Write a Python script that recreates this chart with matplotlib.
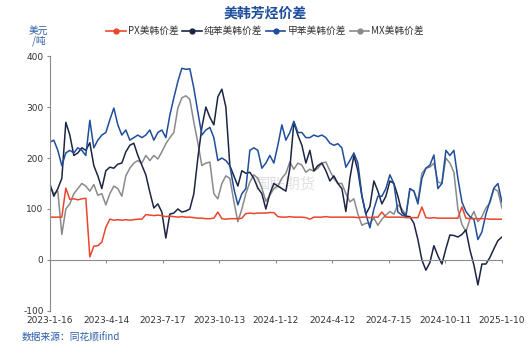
import numpy as np
import matplotlib
matplotlib.use('Agg')
import matplotlib.pyplot as plt
from matplotlib.lines import Line2D

plt.rcParams['font.family'] = ['Noto Sans CJK SC', 'DejaVu Sans']
plt.rcParams['axes.unicode_minus'] = False

# tick labels on the x axis (category axis of trading days)
date_labels = ['2023-1-16', '2023-4-14', '2023-7-17', '2023-10-13', '2024-1-12',
               '2024-4-12', '2024-7-15', '2024-10-11', '2025-1-10']

# PX美韩价差
px = [84, 84, 84, 84, 141, 119, 120, 118, 120, 121,
      6, 27, 28, 35, 64, 80, 78, 79, 78, 79,
      78, 79, 80, 80, 89, 88, 87, 88, 87, 85,
      86, 85, 84, 85, 84, 84, 83, 82, 82, 81,
      81, 82, 94, 81, 80, 81, 81, 81, 82, 91,
      92, 91, 92, 92, 92, 93, 93, 85, 84, 84,
      85, 84, 84, 84, 83, 80, 84, 84, 84, 85,
      84, 84, 84, 84, 84, 84, 84, 83, 84, 84,
      83, 84, 84, 94, 84, 84, 84, 84, 84, 83,
      83, 83, 83, 104, 83, 82, 83, 82, 82, 82,
      82, 82, 82, 104, 82, 81, 81, 81, 81, 81,
      80, 80, 80, 80]

# 纯苯美韩价差
benzene = [150, 125, 140, 160, 270, 245, 205, 210, 220, 215,
           230, 185, 165, 140, 175, 182, 180, 188, 190, 212,
           225, 229, 205, 186, 167, 133, 102, 110, 94, 43,
           90, 92, 100, 94, 96, 100, 130, 200, 260, 300,
           280, 265, 320, 335, 300, 185, 165, 145, 175, 170,
           172, 160, 141, 130, 100, 130, 150, 145, 140, 135,
           180, 270, 245, 225, 190, 215, 175, 185, 190, 175,
           155, 165, 150, 140, 95, 160, 205, 175, 125, 90,
           105, 155, 135, 110, 125, 155, 150, 125, 94, 86,
           85, 72, 40, 0, -20, -5, 28, 8, -8, 22,
           49, 48, 45, 50, 59, 20, -10, -49, -8, -8,
           5, 22, 38, 45]

# 甲苯美韩价差
toluene = [231, 235, 215, 185, 210, 215, 210, 220, 215, 205,
           274, 220, 235, 245, 250, 275, 298, 265, 245, 255,
           235, 240, 245, 240, 245, 255, 235, 250, 255, 240,
           284, 318, 350, 376, 374, 375, 337, 290, 245, 255,
           260, 240, 195, 200, 195, 185, 140, 108, 130, 140,
           215, 220, 215, 180, 190, 205, 190, 225, 265, 235,
           250, 272, 250, 250, 240, 240, 245, 242, 245, 240,
           229, 225, 228, 220, 182, 195, 210, 190, 127, 90,
           63, 100, 125, 125, 140, 167, 150, 94, 88, 85,
           140, 135, 110, 160, 180, 186, 206, 140, 150, 215,
           205, 215, 160, 114, 95, 85, 80, 40, 55, 90,
           115, 141, 150, 114]

# MX美韩价差
mx = [145, 130, 135, 50, 100, 110, 130, 140, 150, 145,
      135, 148, 127, 130, 108, 130, 145, 140, 125, 165,
      180, 190, 195, 190, 205, 195, 205, 198, 212, 228,
      240, 250, 298, 318, 322, 315, 270, 230, 185, 190,
      192, 130, 120, 150, 165, 160, 115, 75, 100, 130,
      153, 167, 160, 141, 115, 127, 140, 145, 160, 170,
      192, 178, 190, 186, 172, 178, 174, 180, 190, 192,
      175, 160, 150, 150, 130, 114, 120, 90, 68, 72,
      72, 82, 68, 80, 88, 95, 90, 108, 100, 88,
      140, 135, 115, 170, 180, 182, 190, 153, 150, 200,
      190, 172, 100, 70, 55, 80, 95, 75, 85, 102,
      112, 140, 135, 102]

c_px = '#e8472d'
c_bz = '#1c2544'
c_tl = '#1f4e9c'
c_mx = '#8a8a8a'
c_txt = '#2a5caa'

fig = plt.figure(figsize=(5.3, 3.57), dpi=100)
ax = fig.add_axes([0.094, 0.129, 0.853, 0.714])

x = np.arange(len(px))
ax.plot(x, mx, color=c_mx, lw=1.1)
ax.plot(x, benzene, color=c_bz, lw=1.1)
ax.plot(x, toluene, color=c_tl, lw=1.1)
ax.plot(x, px, color=c_px, lw=1.1)

ax.set_xlim(0, len(px) - 1)
ax.set_ylim(-100, 400)
ax.set_yticks([-100, 0, 100, 200, 300, 400])

ax.spines['top'].set_visible(False)
ax.spines['right'].set_visible(False)
ax.spines['left'].set_color('#8c8c8c')
ax.spines['bottom'].set_color('#8c8c8c')
ax.spines['bottom'].set_position(('data', 0))

ax.set_xticks(np.linspace(0, len(px) - 1, len(date_labels)))
ax.set_xticklabels(date_labels)
ax.tick_params(axis='x', length=2.5, color='#8c8c8c', pad=38,
               labelsize=6.5, labelcolor='#333333')
ax.tick_params(axis='y', length=2.5, color='#8c8c8c', pad=2,
               labelsize=6.5, labelcolor='#333333')
for lab in ax.get_xticklabels() + ax.get_yticklabels():
    lab.set_family('DejaVu Sans')

# title, unit, source
fig.text(0.5, 1 - 14 / 357, '美韩芳烃价差', ha='center', va='center',
         fontsize=10, fontweight='bold', color=c_tl)
fig.text(38 / 530, 1 - 36 / 357, '美元\n /吨', ha='center', va='center',
         fontsize=7, color=c_txt, linespacing=1.0)
fig.text(22 / 530, 1 - 338 / 357, '数据来源：同花顺ifind', ha='left', va='center',
         fontsize=7, color=c_txt)

# faint watermark
ax.text(0.52, 0.50, '国联期货', transform=ax.transAxes, ha='center', va='center',
        fontsize=11, color='#bbbbbb', alpha=0.45, zorder=0)

handles = [Line2D([], [], color=c, lw=1.2, marker='o', markersize=3.5)
           for c in (c_px, c_bz, c_tl, c_mx)]
names = ['PX美韩价差', '纯苯美韩价差', '甲苯美韩价差', 'MX美韩价差']
fig.legend(handles, names, loc='center', bbox_to_anchor=(0.5, 1 - 31 / 357),
           ncol=4, frameon=False, fontsize=7, handlelength=2.0,
           handletextpad=0.2, columnspacing=0.4, labelcolor='#333333')

fig.savefig('out.png', dpi=100)
